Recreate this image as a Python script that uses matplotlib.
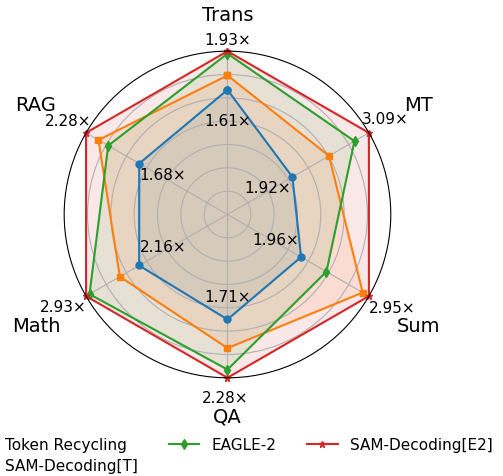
import numpy as np
import matplotlib.pyplot as plt

# datos del radar (speedup por tarea)
categories = ['Trans', 'MT', 'Sum', 'QA', 'Math', 'RAG']
token_recycling = [1.61, 1.92, 1.96, 1.71, 2.16, 1.68]
sam_decoding_t = [1.73, 2.48, 2.86, 1.99, 2.44, 2.14]
eagle2 = [1.91, 2.87, 2.33, 2.20, 2.88, 2.03]
sam_decoding_e2 = [1.93, 3.09, 2.95, 2.28, 2.93, 2.28]

series = [
    ('Token Recycling', token_recycling, '#1f77b4', 'o'),
    ('SAM-Decoding[T]', sam_decoding_t, '#ff7f0e', 's'),
    ('EAGLE-2', eagle2, '#2ca02c', 'd'),
    ('SAM-Decoding[E2]', sam_decoding_e2, '#d62728', '*'),
]

max_per_cat = np.max([s[1] for s in series], axis=0)
angles = np.linspace(0, 2 * np.pi, len(categories), endpoint=False)

# desplazamientos de etiquetas en pixeles (x, y)
cat_offsets = [(0, 37), (50, 28.5), (50, -29.5), (0, -38.5), (-50, -29.5), (-50, 28.5)]
outer_offsets = [(0, 11.5), (16.5, 14.5), (23, -11), (-2, -19.5), (-23, -10), (-17.5, 12)]
inner_offsets = [(0, -31), (-24.7, -10.5), (-25.7, 17.5), (0, 22.5), (23.7, 18.5), (23.7, -10.5)]

fig = plt.figure(figsize=(5.03, 4.77), dpi=100)
ax = fig.add_axes([0.1276, 0.2059, 0.6493, 0.6847], polar=True)
ax.set_theta_offset(np.pi / 2)
ax.set_theta_direction(-1)

for name, vals, color, marker in series:
    norm = np.array(vals) / max_per_cat
    a = np.append(angles, angles[0])
    r = np.append(norm, norm[0])
    ax.plot(a, r, color=color, marker=marker, markersize=5, linewidth=1.5,
            label=name, clip_on=False)
    ax.fill(a, r, color=color, alpha=0.1)

ax.set_ylim(0.3, 1.0)
ax.set_yticks([0.4, 0.5, 0.6, 0.7, 0.8, 0.9])
ax.set_yticklabels([])
ax.set_xticks(angles)
ax.set_xticklabels([])
ax.grid(True, color='#b0b0b0', linewidth=0.8)

tr_norm = np.array(token_recycling) / max_per_cat
for i, cat in enumerate(categories):
    ax.annotate(cat, xy=(angles[i], 1.0), xytext=cat_offsets[i],
                textcoords='offset pixels', ha='center', va='center',
                fontsize=14, annotation_clip=False)
    ax.annotate(f'{max_per_cat[i]:.2f}×', xy=(angles[i], 1.0), xytext=outer_offsets[i],
                textcoords='offset pixels', ha='center', va='center',
                fontsize=11, annotation_clip=False)
    ax.annotate(f'{token_recycling[i]:.2f}×', xy=(angles[i], tr_norm[i]), xytext=inner_offsets[i],
                textcoords='offset pixels', ha='center', va='center',
                fontsize=11, annotation_clip=False)

fig.legend(loc='upper center', bbox_to_anchor=(0.4523, 0.110), ncol=3,
           frameon=False, fontsize=11, labelspacing=0.35)

plt.savefig('out.png', dpi=100)
